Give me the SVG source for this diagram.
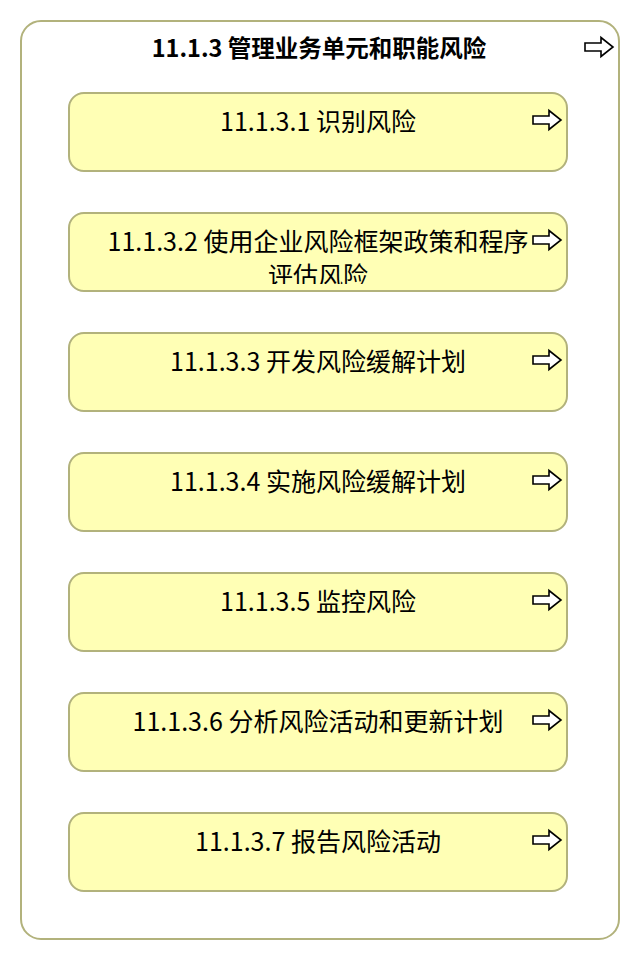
<svg xmlns="http://www.w3.org/2000/svg" width="640" height="960" viewBox="0 0 640 960">
<defs>
<style>
.outer{fill:#ffffff;stroke:#b2b27c;stroke-width:2}
.node{fill:#ffffb5;stroke:#b2b27c;stroke-width:2}
.t{font-family:"Noto Sans CJK SC","Noto Sans",sans-serif;font-size:25px;fill:#000;text-anchor:middle}
.tb{font-weight:bold;font-size:23.5px}
.ico{fill:#fff;stroke:#000;stroke-width:1.6;stroke-linejoin:miter}
</style>
<path id="arr" class="ico" d="M0,-4 L16,-4 L16,-9.5 L28,0 L16,9.5 L16,4 L0,4 Z"/>
<clipPath id="c2"><rect x="69" y="213" width="498" height="71"/></clipPath>
</defs>
<g id="container">
<rect class="outer" x="21" y="21" width="598" height="918" rx="20" ry="20"/>
<text class="t tb" x="319" y="57">11.1.3 管理业务单元和职能风险</text>
<use href="#arr" x="585" y="47"/>
</g>
<g id="connectors"></g>
<g id="n1">
<rect class="node" x="69" y="93" width="498" height="78" rx="15" ry="15"/>
<text class="t" x="318" y="131">11.1.3.1 识别风险</text>
<use href="#arr" x="533" y="120"/>
</g>
<g id="n2">
<rect class="node" x="69" y="213" width="498" height="78" rx="15" ry="15"/>
<g clip-path="url(#c2)">
<text class="t" x="318" y="251">11.1.3.2 使用企业风险框架政策和程序</text>
<text class="t" x="318" y="285">评估风险</text>
</g>
<use href="#arr" x="533" y="240"/>
</g>
<g id="n3">
<rect class="node" x="69" y="333" width="498" height="78" rx="15" ry="15"/>
<text class="t" x="318" y="371">11.1.3.3 开发风险缓解计划</text>
<use href="#arr" x="533" y="360"/>
</g>
<g id="n4">
<rect class="node" x="69" y="453" width="498" height="78" rx="15" ry="15"/>
<text class="t" x="318" y="491">11.1.3.4 实施风险缓解计划</text>
<use href="#arr" x="533" y="480"/>
</g>
<g id="n5">
<rect class="node" x="69" y="573" width="498" height="78" rx="15" ry="15"/>
<text class="t" x="318" y="611">11.1.3.5 监控风险</text>
<use href="#arr" x="533" y="600"/>
</g>
<g id="n6">
<rect class="node" x="69" y="693" width="498" height="78" rx="15" ry="15"/>
<text class="t" x="318" y="731">11.1.3.6 分析风险活动和更新计划</text>
<use href="#arr" x="533" y="720"/>
</g>
<g id="n7">
<rect class="node" x="69" y="813" width="498" height="78" rx="15" ry="15"/>
<text class="t" x="318" y="851">11.1.3.7 报告风险活动</text>
<use href="#arr" x="533" y="840"/>
</g>
</svg>
